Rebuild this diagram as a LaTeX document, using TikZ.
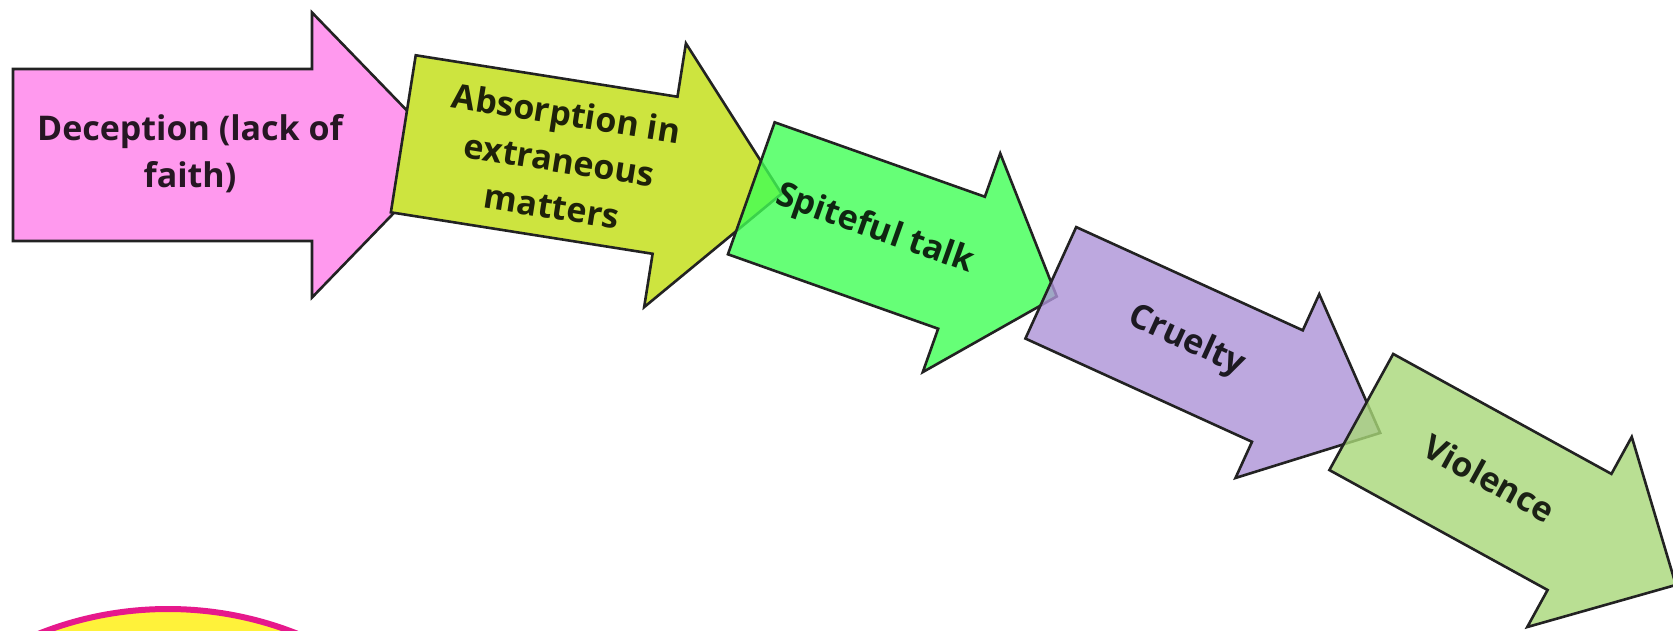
\documentclass[tikz,border=0pt]{standalone}
\usepackage{fontspec}
\setmainfont{Open Sans}
\definecolor{pinkA}{HTML}{FF99EE}
\definecolor{limeA}{HTML}{CDE43F}
\definecolor{greenA}{HTML}{40FF55}
\definecolor{purpleA}{HTML}{AD93D8}
\definecolor{sageA}{HTML}{A8D878}
\definecolor{linecol}{HTML}{222222}
\definecolor{ringcol}{HTML}{E6198C}
\definecolor{discol}{HTML}{FFF23A}
\tikzset{
  arrowbox/.style={draw=linecol, line width=2.6pt, line join=miter},
  seethrough/.style={fill opacity=0.8},
  arrowtext/.style={font=\fontsize{34}{47}\selectfont\bfseries, text=black, text opacity=0.85,
    align=center, transform shape, inner sep=0pt},
}
\begin{document}
\begin{tikzpicture}[x=1pt,y=-1pt]
\useasboundingbox (0,0) rectangle (1673,630);
\clip (0,0) rectangle (1673,630);
\fill[white] (0,0) rectangle (1673,630);

% disc at the bottom left
\draw[fill=discol, draw=ringcol, line width=6pt] (168,958) circle[radius=349];

% arrow 1
\begin{scope}[shift={(13,155)}]
  \path[arrowbox, fill=pinkA] (0,-86) -- (299,-86) -- (299,-142.5) -- (437,0)
    -- (299,142.5) -- (299,86) -- (0,86) -- cycle;
  \node[arrowtext] (t1) at (177,-1) {Deception (lack of\\faith)};
\end{scope}

% arrow 2
\begin{scope}[shift={(403.3,133.8)}, rotate=-9]
  \path[arrowbox, fill=limeA] (0,-79.5) -- (265,-79.5) -- (265,-133.5) -- (383,0)
    -- (265,133.5) -- (265,79.5) -- (0,79.5) -- cycle;
  \node[arrowtext] (t2) at (158,1) {Absorption in\\extraneous\\matters};
\end{scope}

% arrow 3
\begin{scope}[shift={(751.3,188.3)}, rotate=-19.5]
  \path[arrowbox, seethrough, fill=greenA] (0,-70) -- (223,-70) -- (223,-116) -- (324,0)
    -- (223,116) -- (223,70) -- (0,70) -- cycle;
  \node[arrowtext] (t3) at (130,-2) {Spiteful talk};
\end{scope}

% arrow 4
\begin{scope}[shift={(1050.8,282.8)}, rotate=-24.5]
  \path[arrowbox, seethrough, fill=purpleA] (0,-61.25) -- (249,-61.25) -- (249,-101) -- (362,0)
    -- (249,101) -- (249,61.25) -- (0,61.25) -- cycle;
  \node[arrowtext] (t4) at (148,-3) {Cruelty};
\end{scope}

% arrow 5
\begin{scope}[shift={(1361.3,412)}, rotate=-28.8]
  \path[arrowbox, seethrough, fill=sageA] (0,-66.25) -- (249,-66.25) -- (249,-108.5) -- (359,0)
    -- (249,108.5) -- (249,66.25) -- (0,66.25) -- cycle;
  \node[arrowtext] (t5) at (144,-4) {Violence};
\end{scope}
\end{tikzpicture}
\end{document}
